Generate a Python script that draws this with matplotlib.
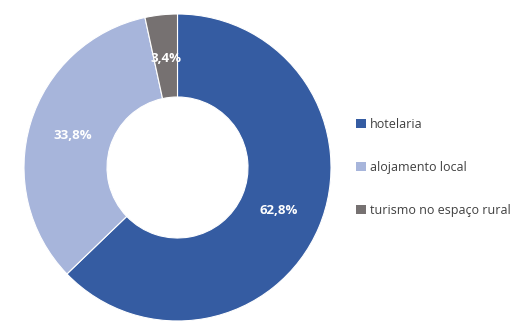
import matplotlib
matplotlib.use('Agg')
import matplotlib.pyplot as plt
from matplotlib.patches import Patch
import numpy as np

categories = ['hotelaria', 'alojamento local', 'turismo no espaço rural']
shares = [62.8, 33.8, 3.4]
pct_labels = ['62,8%', '33,8%', '3,4%']
colors = ['#355CA2', '#A7B5DB', '#767171']

plt.rcParams['font.family'] = ['Open Sans', 'DejaVu Sans']

fig = plt.figure(figsize=(5.29, 3.35), dpi=100)
ax = fig.add_axes([0, 0, 1, 1])
ax.axis('off')

cx, cy = 177.5, 167.5
wedges, _ = ax.pie(shares, colors=colors, startangle=90, counterclock=False,
                   center=(cx, cy), radius=153.5,
                   wedgeprops=dict(width=83, edgecolor='white', linewidth=0.8))
ax.set_xlim(0, 529)
ax.set_ylim(0, 335)
ax.set_aspect('equal')

# percentage labels in the middle of each ring segment
for w, lab in zip(wedges, pct_labels):
    mid = np.deg2rad((w.theta1 + w.theta2) / 2)
    r = 110
    ax.text(cx + r * np.cos(mid), cy + r * np.sin(mid), lab,
            ha='center', va='center', color='white', fontsize=9.5, fontweight='bold')

handles = [Patch(facecolor=c, edgecolor='none') for c in colors]
ax.legend(handles, categories, loc='center left', bbox_to_anchor=(0.652, 0.5),
          frameon=False, fontsize=9, labelcolor='#404040',
          handlelength=0.8, handleheight=0.8, handletextpad=0.3,
          labelspacing=2.4)

fig.savefig('out.png', dpi=100)
